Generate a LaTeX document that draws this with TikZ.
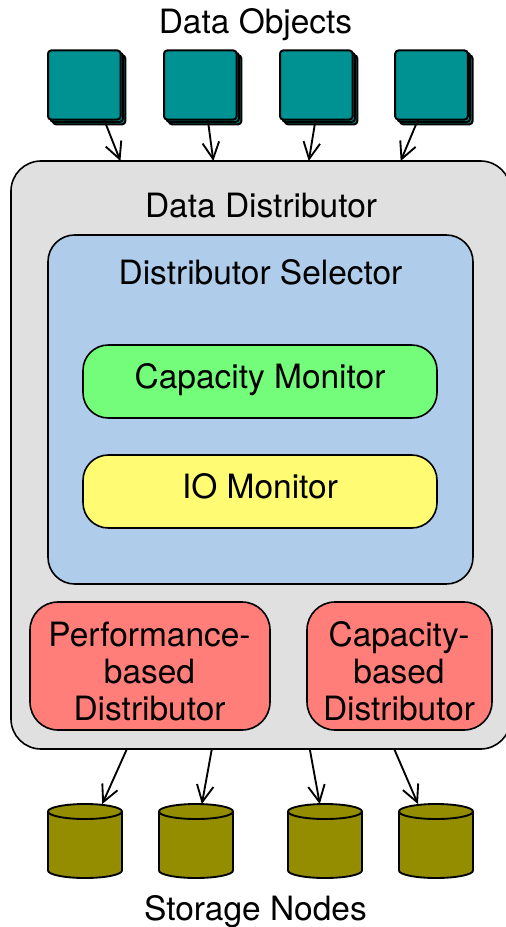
\documentclass[tikz,border=0pt]{standalone}
\usepackage{fontspec}
\setmainfont{TeX Gyre Heros}
\usetikzlibrary{arrows.meta,calc,shadows}
\definecolor{objfill}{RGB}{0,146,146}
\definecolor{distfill}{RGB}{224,224,224}
\definecolor{selfill}{RGB}{175,205,234}
\definecolor{capfill}{RGB}{115,253,122}
\definecolor{iofill}{RGB}{255,251,115}
\definecolor{redfill}{RGB}{255,126,121}
\definecolor{cylfill}{RGB}{149,141,0}
\tikzset{
  x=0.75pt,y=-0.75pt,
  every node/.style={font=\fontsize{25.1}{27.75}\selectfont,inner sep=0pt,outer sep=0pt,align=center},
  box/.style={draw=black,line width=1.2pt,rectangle},
  objbox/.style={draw=black,line width=1.5pt,rectangle,rounded corners=2.4pt,fill=objfill,
    minimum width=54.4pt,minimum height=51.8pt,
    double copy shadow={shadow xshift=1.8pt,shadow yshift=-1.8pt,draw=black,fill=objfill}},
  cylslot/.style={rectangle,minimum width=55.5pt,minimum height=55.5pt},
  cylline/.style={draw=black,line width=1.4pt,fill=cylfill,line join=round},
  conn/.style={draw=black,line width=1.4pt,-{Straight Barb[length=12.5pt,width=12.5pt,line width=1.4pt]}},
}
\begin{document}
\begin{tikzpicture}
\useasboundingbox (0,0) rectangle (506,927);
\clip (0,0) rectangle (506,927);
% main box
\node[box,fill=distfill,rounded corners=22.5pt,minimum width=374.7pt,minimum height=441pt] (dist) at (260.8,455) {};
\node (distlabel) at (261,206) {Data Distributor};
\node[box,fill=selfill,rounded corners=20pt,minimum width=318.75pt,minimum height=261.75pt] (sel) at (260.5,409.5) {};
\node (sellabel) at (260.5,272) {Distributor Selector};
\node[box,fill=capfill,rounded corners=19pt,minimum width=265.5pt,minimum height=54.75pt] (cap) at (260,381.5) {};
\node (caplabel) at (260,380) {Capacity Monitor};
\node[box,fill=iofill,rounded corners=19pt,minimum width=265.5pt,minimum height=54.75pt] (iom) at (260,491.5) {};
\node (iolabel) at (260,486.5) {IO Monitor};
\node[box,fill=redfill,rounded corners=21pt,minimum width=180pt,minimum height=96pt] (perf) at (150,666) {};
\node (perflabel) at (149.5,671) {Performance-\\based\\Distributor};
\node[box,fill=redfill,rounded corners=21pt,minimum width=138.75pt,minimum height=96pt] (capd) at (399.5,666) {};
\node (capdlabel) at (399,671) {Capacity-\\based\\Distributor};
% objects
\node (objtitle) at (255.5,25) {Data Objects};
\node[objbox] (o1) at (84.3,85) {};
\node[objbox] (o2) at (200.3,85) {};
\node[objbox] (o3) at (316.3,85) {};
\node[objbox] (o4) at (431.5,85) {};
% storage
\node[cylslot] (c1) at (85,841) {};
\node[cylslot] (c2) at (196,841) {};
\node[cylslot] (c3) at (325,841) {};
\node[cylslot] (c4) at (436,841) {};
\foreach \c in {c1,c2,c3,c4}{
  \path[cylline] ($(\c.north west)+(0,7.5)$) -- ($(\c.south west)+(0,-7.5)$)
     arc[start angle=180,end angle=0,x radius=37,y radius=7.5]
     -- ($(\c.north east)+(0,7.5)$) -- cycle;
  \path[cylline] ($(\c.center)+(0,-29.5)$) ellipse[x radius=37,y radius=7.5];
}
\node (stlabel) at (255.5,912) {Storage Nodes};
% connectors
\draw[conn] ($(o1.south west)!.772!(o1.south east)$) -- ($(dist.north west)!.219!(dist.north east)$);
\draw[conn] ($(o2.south west)!.603!(o2.south east)$) -- ($(dist.north west)!.405!(dist.north east)$);
\draw[conn] ($(o3.south west)!.49!(o3.south east)$) -- ($(dist.north west)!.596!(dist.north east)$);
\draw[conn] ($(o4.south west)!.315!(o4.south east)$) -- ($(dist.north west)!.78!(dist.north east)$);
\draw[conn] ($(dist.south west)!.232!(dist.south east)$) -- (c1.65);
\draw[conn] ($(dist.south west)!.402!(dist.south east)$) -- (c2.81);
\draw[conn] ($(dist.south west)!.598!(dist.south east)$) -- (c3.98);
\draw[conn] ($(dist.south west)!.767!(dist.south east)$) -- (c4.116);
\end{tikzpicture}
\end{document}
